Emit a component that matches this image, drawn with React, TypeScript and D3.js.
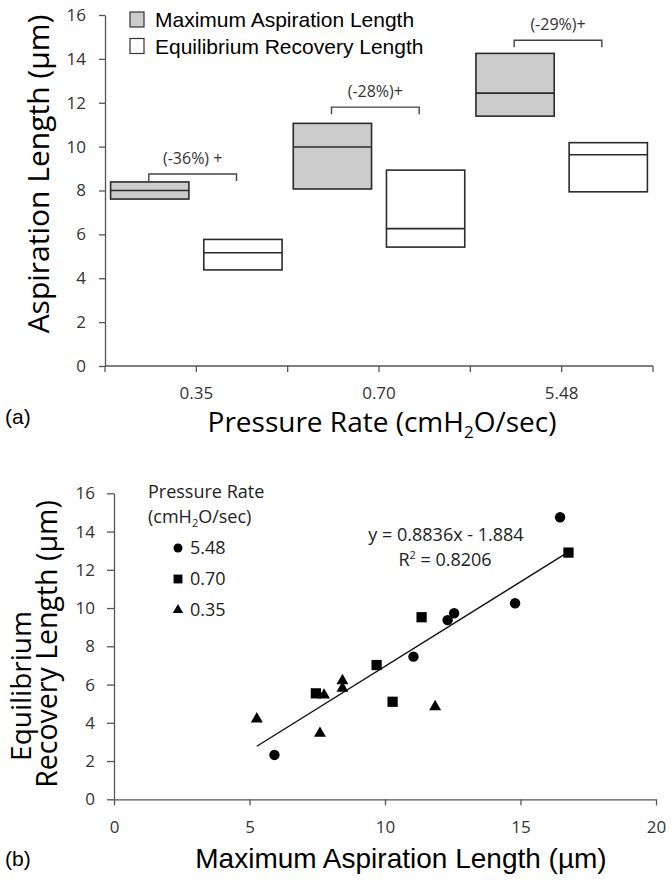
import React, { useEffect, useRef } from 'react';
import * as d3 from 'd3';

// ---- panel (a): floating boxes ----
const categories = ['0.35', '0.70', '5.48'];
const maxLow = [7.61, 8.07, 11.39];
const maxMed = [8.0, 9.98, 12.44];
const maxHigh = [8.39, 11.06, 14.25];
const eqLow = [4.38, 5.42, 7.94];
const eqMed = [5.16, 6.26, 9.63];
const eqHigh = [5.77, 8.93, 10.18];
const changeLabels = ['(-36%) +', '(-28%)+', '(-29%)+'];
const bracketLevel = [8.75, 11.8, 14.85];
const seriesNames = ['Maximum Aspiration Length', 'Equilibrium Recovery Length'];
const yTicksA = [0, 2, 4, 6, 8, 10, 12, 14, 16];

// ---- panel (b): scatter ----
const circleX = [16.46, 14.8, 12.55, 12.31, 11.05, 5.92];
const circleY = [14.75, 10.25, 9.73, 9.37, 7.46, 2.32];
const squareX = [16.77, 11.35, 9.69, 10.28, 7.45];
const squareY = [12.9, 9.52, 7.02, 5.1, 5.54];
const triangleX = [5.27, 7.6, 8.43, 8.43, 11.85, 7.75];
const triangleY = [4.2, 3.45, 6.2, 5.8, 4.84, 5.45];
const legendRates = ['5.48', '0.70', '0.35'];
const fitSlope = 0.8836;
const fitIntercept = -1.884;
const yTicksB = [0, 2, 4, 6, 8, 10, 12, 14, 16];
const xTicksB = [0, 5, 10, 15, 20];

const sans = '"Open Sans", "Noto Sans", sans-serif';
const arial = '"Liberation Sans", Arial, sans-serif';

const App = () => {
  const svgRef = useRef<SVGSVGElement>(null);

  useEffect(() => {
    const svg = d3.select(svgRef.current);
    svg.selectAll('*').remove();

    // ================= (a) =================
    const yA = d3.scaleLinear().domain([0, 16]).range([366, 15]);
    const xG = d3.scaleBand().domain(categories).range([105, 653]);
    const xS = d3.scaleBand().domain(['max', 'eq']).range([0, xG.bandwidth()])
      .paddingInner(0.16).paddingOuter(0.06);

    const a = svg.append('g');

    // y axis
    const yAxA = a.append('g').attr('transform', 'translate(105,0)')
      .call(d3.axisLeft(yA).tickValues(yTicksA).tickSize(6).tickSizeOuter(0).tickPadding(13));
    yAxA.select('.domain').attr('stroke', '#555').attr('stroke-width', 1.3);
    yAxA.selectAll('.tick line').attr('stroke', '#555').attr('stroke-width', 1.3);
    yAxA.selectAll('.tick text').attr('font-family', sans).attr('font-size', 17).attr('fill', '#333');

    // x axis
    const bw = xG.bandwidth();
    const xTickPos: number[] = [];
    categories.forEach(c => { xTickPos.push(xG(c)!, xG(c)! + bw / 2); });
    xTickPos.push(653);
    a.append('line').attr('x1', 105).attr('x2', 653).attr('y1', yA(0)).attr('y2', yA(0))
      .attr('stroke', '#555').attr('stroke-width', 1.3);
    a.selectAll('.xt').data(xTickPos).join('line')
      .attr('x1', d => d).attr('x2', d => d).attr('y1', yA(0)).attr('y2', yA(0) + 6)
      .attr('stroke', '#555').attr('stroke-width', 1.3);
    a.selectAll('.xl').data(categories).join('text')
      .attr('x', d => xG(d)! + bw / 2).attr('y', 399)
      .attr('text-anchor', 'middle').attr('font-family', sans).attr('font-size', 17).attr('fill', '#333')
      .text(d => d);

    // boxes
    const boxes = [
      { key: 'max', low: maxLow, med: maxMed, high: maxHigh, fill: '#cccccc' },
      { key: 'eq', low: eqLow, med: eqMed, high: eqHigh, fill: '#ffffff' },
    ];
    boxes.forEach(s => {
      categories.forEach((c, i) => {
        const x0 = xG(c)! + xS(s.key)!;
        a.append('rect').attr('x', x0).attr('y', yA(s.high[i]))
          .attr('width', xS.bandwidth()).attr('height', yA(s.low[i]) - yA(s.high[i]))
          .attr('fill', s.fill).attr('stroke', '#2b2b2b').attr('stroke-width', 1.6);
        a.append('line').attr('x1', x0).attr('x2', x0 + xS.bandwidth())
          .attr('y1', yA(s.med[i])).attr('y2', yA(s.med[i]))
          .attr('stroke', '#2b2b2b').attr('stroke-width', 1.6);
      });
    });

    // brackets
    categories.forEach((c, i) => {
      const bx0 = xG(c)! + bw * 0.24;
      const bx1 = xG(c)! + bw * 0.72;
      const by = yA(bracketLevel[i]);
      a.append('path')
        .attr('d', `M${bx0},${by + 7}V${by}H${bx1}V${by + 7}`)
        .attr('fill', 'none').attr('stroke', '#444').attr('stroke-width', 1.4);
      a.append('text').attr('x', (bx0 + bx1) / 2).attr('y', by - 10)
        .attr('text-anchor', 'middle').attr('font-family', sans).attr('font-size', 16).attr('fill', '#333')
        .text(changeLabels[i]);
    });

    // legend
    seriesNames.forEach((n, i) => {
      a.append('rect').attr('x', 130).attr('y', 12 + i * 26.5).attr('width', 14).attr('height', 15)
        .attr('fill', i === 0 ? '#cccccc' : '#ffffff').attr('stroke', '#333').attr('stroke-width', 1.2);
      a.append('text').attr('x', 155).attr('y', 27 + i * 26.5)
        .attr('font-family', arial).attr('font-size', 21).attr('fill', '#000').text(n);
    });

    // titles
    a.append('text').attr('transform', 'translate(49,174) rotate(-90)')
      .attr('text-anchor', 'middle').attr('font-family', sans).attr('font-size', 30).attr('fill', '#000')
      .text('Aspiration Length (µm)');
    const xtA = a.append('text').attr('x', 382).attr('y', 432)
      .attr('text-anchor', 'middle').attr('font-family', sans).attr('font-size', 28).attr('fill', '#000');
    xtA.append('tspan').text('Pressure Rate (cmH');
    xtA.append('tspan').attr('font-size', 17).attr('dy', 6).text('2');
    xtA.append('tspan').attr('dy', -6).text('O/sec)');
    a.append('text').attr('x', 5).attr('y', 424).attr('font-family', arial).attr('font-size', 21)
      .attr('fill', '#000').text('(a)');

    // ================= (b) =================
    const xB = d3.scaleLinear().domain([0, 20]).range([114, 656]);
    const yB = d3.scaleLinear().domain([0, 16]).range([799.3, 493.3]);
    const b = svg.append('g');

    const yAxB = b.append('g').attr('transform', 'translate(114,0)')
      .call(d3.axisLeft(yB).tickValues(yTicksB).tickSize(7).tickSizeOuter(0).tickPadding(12));
    const xAxB = b.append('g').attr('transform', `translate(0,${yB(0)})`)
      .call(d3.axisBottom(xB).tickValues(xTicksB).tickSize(6).tickSizeOuter(0).tickPadding(16));
    [yAxB, xAxB].forEach(ax => {
      ax.select('.domain').attr('stroke', '#555').attr('stroke-width', 1.3);
      ax.selectAll('.tick line').attr('stroke', '#555').attr('stroke-width', 1.3);
      ax.selectAll('.tick text').attr('font-family', sans).attr('font-size', 17).attr('fill', '#333');
    });

    // fit line
    const allX = [...circleX, ...squareX, ...triangleX];
    const fitX = [d3.min(allX)!, d3.max(allX)!];
    b.append('line')
      .attr('x1', xB(fitX[0])).attr('y1', yB(fitSlope * fitX[0] + fitIntercept))
      .attr('x2', xB(fitX[1])).attr('y2', yB(fitSlope * fitX[1] + fitIntercept))
      .attr('stroke', '#111').attr('stroke-width', 1.4);

    const groups = [
      { xs: circleX, ys: circleY, sym: d3.symbolCircle, size: 85 },
      { xs: squareX, ys: squareY, sym: d3.symbolSquare, size: 105 },
      { xs: triangleX, ys: triangleY, sym: d3.symbolTriangle, size: 62 },
    ];
    groups.forEach(g => {
      const path = d3.symbol().type(g.sym).size(g.size)();
      g.xs.forEach((xv, i) => {
        b.append('path').attr('d', path!)
          .attr('transform', `translate(${xB(xv)},${yB(g.ys[i])})`).attr('fill', '#000');
      });
    });

    // legend
    b.append('text').attr('x', 148).attr('y', 498).attr('font-family', sans).attr('font-size', 18)
      .attr('fill', '#222').text('Pressure Rate');
    const lt = b.append('text').attr('x', 148).attr('y', 523).attr('font-family', sans).attr('font-size', 18)
      .attr('fill', '#222');
    lt.append('tspan').text('(cmH');
    lt.append('tspan').attr('font-size', 11).attr('dy', 4).text('2');
    lt.append('tspan').attr('dy', -4).text('O/sec)');
    legendRates.forEach((r, i) => {
      const cy = 548 + i * 31;
      const path = d3.symbol().type(groups[i].sym).size(groups[i].size * 0.75)();
      b.append('path').attr('d', path!).attr('transform', `translate(178,${cy})`).attr('fill', '#000');
      b.append('text').attr('x', 190).attr('y', cy + 6).attr('font-family', sans).attr('font-size', 18)
        .attr('fill', '#222').text(r);
    });

    // equation
    b.append('text').attr('x', 446).attr('y', 541).attr('text-anchor', 'middle')
      .attr('font-family', sans).attr('font-size', 18).attr('fill', '#222')
      .text(`y = ${fitSlope}x - ${Math.abs(fitIntercept)}`);
    const r2 = b.append('text').attr('x', 445).attr('y', 566).attr('text-anchor', 'middle')
      .attr('font-family', sans).attr('font-size', 18).attr('fill', '#222');
    r2.append('tspan').text('R');
    r2.append('tspan').attr('font-size', 11).attr('dy', -7).text('2');
    r2.append('tspan').attr('dy', 7).text(' = 0.8206');

    // titles
    b.append('text').attr('transform', 'translate(31,686) rotate(-90)')
      .attr('text-anchor', 'middle').attr('font-family', sans).attr('font-size', 28).attr('fill', '#000')
      .text('Equilibrium');
    b.append('text').attr('transform', 'translate(57,644) rotate(-90)')
      .attr('text-anchor', 'middle').attr('font-family', sans).attr('font-size', 28.5).attr('fill', '#000')
      .text('Recovery Length (µm)');
    b.append('text').attr('x', 401).attr('y', 868).attr('text-anchor', 'middle')
      .attr('font-family', arial).attr('font-size', 28).attr('fill', '#000')
      .text('Maximum Aspiration Length (µm)');
    b.append('text').attr('x', 5).attr('y', 866).attr('font-family', arial).attr('font-size', 21)
      .attr('fill', '#000').text('(b)');
  }, []);

  return (
    <svg ref={svgRef} width={672} height={883}
      style={{ position: 'absolute', left: 0, top: 0, background: '#fff' }} />
  );
};

export default App;
